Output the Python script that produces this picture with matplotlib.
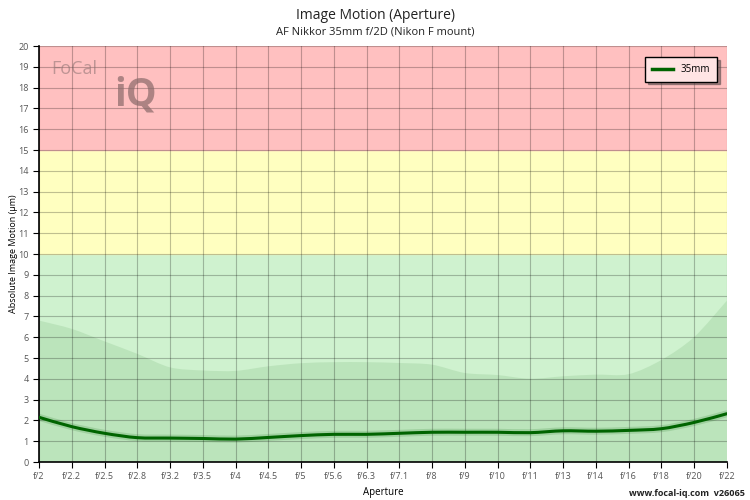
import matplotlib
matplotlib.use("Agg")
import matplotlib.pyplot as plt
import matplotlib.patheffects as pe
from matplotlib.path import Path
from matplotlib.patches import PathPatch
from matplotlib.lines import Line2D
import numpy as np

plt.rcParams['font.family'] = ['Open Sans', 'DejaVu Sans']

apertures = ['f/2', 'f/2.2', 'f/2.5', 'f/2.8', 'f/3.2', 'f/3.5', 'f/4', 'f/4.5',
             'f/5', 'f/5.6', 'f/6.3', 'f/7.1', 'f/8', 'f/9', 'f/10', 'f/11',
             'f/13', 'f/14', 'f/16', 'f/18', 'f/20', 'f/22']
motion_35mm = [2.15, 1.70, 1.38, 1.17, 1.15, 1.13, 1.10, 1.18, 1.27, 1.33, 1.33,
               1.38, 1.43, 1.43, 1.43, 1.41, 1.50, 1.48, 1.52, 1.60, 1.90, 2.32]
band_upper = [6.8, 6.4, 5.8, 5.2, 4.55, 4.4, 4.38, 4.6, 4.75, 4.8, 4.8,
              4.76, 4.68, 4.28, 4.18, 4.0, 4.12, 4.2, 4.22, 4.9, 6.0, 7.75]
zones = [(0, 10, '#cff2cf'), (10, 15, '#ffffc0'), (15, 20, '#ffc0c0')]

x = np.arange(len(apertures))


def smooth_path(xs, ys, t=0.3):
    # cubic bezier segments through the points (like the web chart's spline)
    verts = [(xs[0], ys[0])]
    codes = [Path.MOVETO]
    n = len(xs)
    for i in range(n - 1):
        x0, y0 = xs[max(i - 1, 0)], ys[max(i - 1, 0)]
        x1, y1 = xs[i], ys[i]
        x2, y2 = xs[i + 1], ys[i + 1]
        x3, y3 = xs[min(i + 2, n - 1)], ys[min(i + 2, n - 1)]
        c1 = (x1 + (x2 - x0) * t / 2, y1 + (y2 - y0) * t / 2)
        c2 = (x2 - (x3 - x1) * t / 2, y2 - (y3 - y1) * t / 2)
        verts += [c1, c2, (x2, y2)]
        codes += [Path.CURVE4] * 3
    return verts, codes


fig = plt.figure(figsize=(7.5, 5), dpi=100)
ax = fig.add_axes([0.052, 0.076, 0.917, 0.832])

for lo, hi, c in zones:
    ax.axhspan(lo, hi, color=c, zorder=0)

bv, bc = smooth_path(x, band_upper)
bv = bv + [(x[-1], 0), (x[0], 0), (x[0], band_upper[0])]
bc = bc + [Path.LINETO, Path.LINETO, Path.CLOSEPOLY]
ax.add_patch(PathPatch(Path(bv, bc), facecolor='#b5e0b5', alpha=0.75, lw=0, zorder=1))

lv, lc = smooth_path(x, motion_35mm)
ax.add_patch(PathPatch(Path(lv, lc), facecolor='none', edgecolor='#006400', lw=2.2, zorder=3,
                       capstyle='round',
                       path_effects=[pe.Stroke(linewidth=5, foreground='#006400', alpha=0.15),
                                     pe.Normal()]))

ax.set_xlim(0, len(apertures) - 1)
ax.set_ylim(0, 20)
ax.set_xticks(x)
ax.set_xticklabels(apertures)
ax.set_yticks(range(0, 21))
ax.grid(True, color='black', alpha=0.25, lw=0.8, zorder=2)
ax.set_axisbelow(False)
ax.tick_params(labelsize=6.5, labelcolor='#555555', color='black', length=4)
for s in ['top', 'right']:
    ax.spines[s].set_visible(False)
ax.spines['left'].set_linewidth(1.2)
ax.spines['bottom'].set_linewidth(1.2)

ax.set_xlabel('Aperture', fontsize=7, labelpad=4)
ax.set_ylabel('Absolute Image Motion (µm)', fontsize=6.5)
ax.yaxis.set_label_coords(-0.03, 0.5)

fig.text(0.5, 0.962, 'Image Motion (Aperture)', ha='center', fontsize=10, color='#222222')
fig.text(0.5, 0.931, 'AF Nikkor 35mm f/2D (Nikon F mount)', ha='center', fontsize=8, color='#222222')
fig.text(0.993, 0.008, 'www.focal-iq.com  v26065', ha='right', fontsize=6.5,
         fontweight='bold', color='#222222')

# logo
fig.text(0.068, 0.853, 'FoCal', fontsize=13, color='#8a7070', alpha=0.55)
fig.text(0.152, 0.79, 'iQ', fontsize=28, color='#8a6a6a', alpha=0.7, fontweight='bold')

handle = Line2D([], [], color='#006400', lw=2.5)
leg = ax.legend([handle], ['35mm'], loc='upper right', bbox_to_anchor=(0.993, 0.985), fontsize=7,
                frameon=True, fancybox=False, shadow=True, handlelength=2.2,
                borderpad=0.7, handletextpad=0.8)
leg.get_frame().set_edgecolor('black')
leg.get_frame().set_facecolor('#ffe4e4')

fig.savefig('out.png', dpi=100)
